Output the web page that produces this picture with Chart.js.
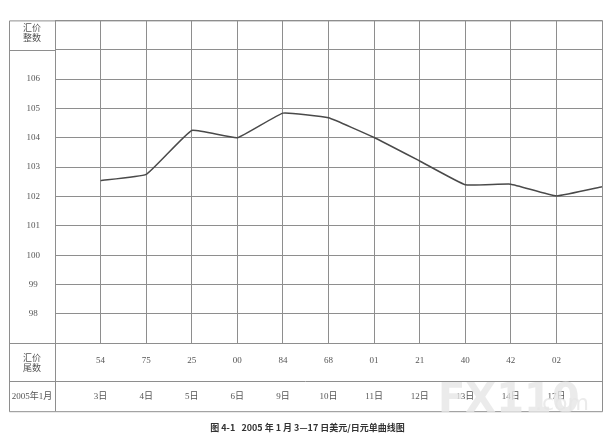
<!DOCTYPE html>
<html>
<head>
<meta charset="utf-8">
<script src="https://cdn.jsdelivr.net/npm/chart.js@4"></script>
<style>
  body { margin: 0; background: #fff; }
  canvas { display: block; }
</style>
</head>
<body>
<canvas id="graph" width="614" height="441"></canvas>
<script>
const dates = ['3日', '4日', '5日', '6日', '9日', '10日', '11日', '12日', '13日', '14日', '17日'];
const tails = ['54', '75', '25', '00', '84', '68', '01', '21', '40', '42', '02'];
// last point runs on to the right edge with no label under it
const rates = [102.54, 102.75, 104.25, 104.00, 104.84, 104.68, 104.01, 103.21, 102.40, 102.42, 102.02, 102.33];
const yLabels = [98, 99, 100, 101, 102, 103, 104, 105, 106];

const gridColor = '#8e8e8e';
const textColor = '#555';
const numFont = "'Liberation Serif', 'Noto Sans CJK SC', serif";

const points = rates.map((v, i) => ({x: i + 1, y: v}));

// frame of the table and the left column labels
const tablePlugin = {
  id: 'table',
  afterDraw(chart) {
    const ctx = chart.ctx;
    const a = chart.chartArea;
    const y = chart.scales.y;
    const xd = chart.scales.xd;
    const left = y.left, right = a.right;
    const top = a.top, bottom = xd.bottom;
    const y107 = y.getPixelForValue(107);
    const rowLine = xd.top;
    ctx.save();
    ctx.strokeStyle = gridColor;
    ctx.lineWidth = 1;
    ctx.beginPath();
    ctx.rect(left + 0.5, top + 0.5, right - left, bottom - top);
    ctx.moveTo(left, Math.round(y107) + 0.5); ctx.lineTo(a.left, Math.round(y107) + 0.5);
    ctx.moveTo(left, Math.round(a.bottom) + 0.5); ctx.lineTo(right, Math.round(a.bottom) + 0.5);
    ctx.moveTo(left, Math.round(rowLine) + 0.5); ctx.lineTo(right, Math.round(rowLine) + 0.5);
    ctx.moveTo(Math.round(a.left) + 0.5, top); ctx.lineTo(Math.round(a.left) + 0.5, bottom);
    ctx.stroke();

    ctx.fillStyle = textColor;
    ctx.textAlign = 'center';
    ctx.textBaseline = 'middle';
    ctx.font = "9px 'Noto Sans CJK SC', sans-serif";
    const cx = (left + a.left) / 2;
    ctx.fillText('汇价', cx, 28);
    ctx.fillText('整数', cx, 38);
    ctx.fillText('汇价', cx, a.bottom + 14);
    ctx.fillText('尾数', cx, a.bottom + 24);
    ctx.font = "9px " + numFont;
    ctx.fillText('2005年1月', cx, (rowLine + bottom) / 2);

    // watermark
    ctx.globalAlpha = 0.8;
    ctx.fillStyle = '#e6e6e6';
    ctx.textAlign = 'left';
    ctx.textBaseline = 'alphabetic';
    ctx.font = "bold 40px 'DejaVu Sans', sans-serif";
    ctx.fillText('FX110', 438, 412);
    ctx.font = "22px 'DejaVu Sans', sans-serif";
    ctx.fillText('.com', 535, 410);
    ctx.restore();
  }
};

const config = {
  type: 'line',
  data: {
    datasets: [{
      data: points,
      borderColor: '#4a4a4a',
      borderWidth: 1.5,
      pointRadius: 0,
      fill: false,
      tension: 0.1
    }]
  },
  options: {
    responsive: false,
    animation: false,
    layout: {padding: {left: 9, right: 8, top: 17, bottom: 0}},
    plugins: {
      legend: {display: false},
      tooltip: {enabled: false},
      title: {
        display: true,
        position: 'bottom',
        text: '图 4-1   2005 年 1 月 3—17 日美元/日元单曲线图',
        color: '#333',
        font: {family: "'Noto Sans CJK SC', sans-serif", size: 9, weight: 'bold'},
        padding: {top: 11, bottom: 8}
      }
    },
    scales: {
      x: {
        type: 'linear',
        position: 'bottom',
        weight: 0,
        min: 0,
        max: 12,
        afterFit: s => { s.height = 38; },
        afterBuildTicks: s => { s.ticks = Array.from({length: 13}, (_, i) => ({value: i})); },
        grid: {color: gridColor, drawTicks: false, lineWidth: 1},
        border: {color: gridColor},
        ticks: {
          autoSkip: false,
          maxRotation: 0,
          padding: 12,
          color: textColor,
          font: {family: numFont, size: 9},
          callback: v => tails[v - 1] || ''
        }
      },
      xd: {
        type: 'linear',
        axis: 'x',
        position: 'bottom',
        weight: 1,
        min: 0,
        max: 12,
        afterFit: s => { s.height = 30; },
        afterBuildTicks: s => { s.ticks = Array.from({length: 13}, (_, i) => ({value: i})); },
        grid: {display: false, drawTicks: false},
        border: {display: false},
        ticks: {
          autoSkip: false,
          maxRotation: 0,
          padding: 10,
          color: textColor,
          font: {family: numFont, size: 9},
          callback: v => dates[v - 1] || ''
        }
      },
      y: {
        min: 97,
        max: 108,
        afterFit: s => { s.width = 46; },
        afterBuildTicks: s => { s.ticks = Array.from({length: 12}, (_, i) => ({value: 97 + i})); },
        grid: {color: gridColor, drawTicks: false, lineWidth: 1},
        border: {color: gridColor},
        ticks: {
          crossAlign: 'center',
          padding: 15,
          color: textColor,
          font: {family: numFont, size: 9},
          callback: v => yLabels.includes(v) ? String(v) : ''
        }
      }
    }
  },
  plugins: [tablePlugin]
};

const myChart = new Chart(document.getElementById('graph'), config);
</script>
</body>
</html>
